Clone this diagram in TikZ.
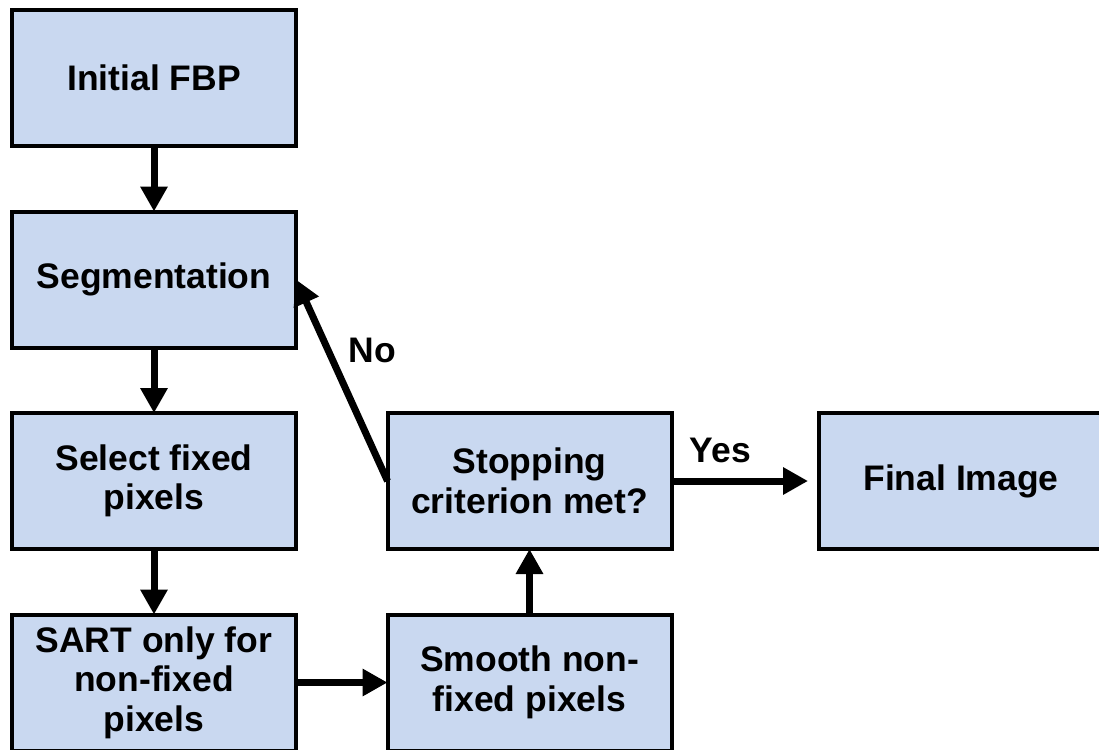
\documentclass[tikz,border=0pt]{standalone}
\usepackage{fontspec}
\setmainfont{Liberation Sans}
\usepackage{xcolor}
\usetikzlibrary{arrows.meta,positioning}
\definecolor{boxblue}{RGB}{201,216,240}

\begin{document}
\begin{tikzpicture}[
    node distance=1.31cm and 1.83cm,
    box/.style={rectangle, draw, line width=0.08cm, outer sep=0pt, fill=boxblue, minimum width=5.68cm, minimum height=2.72cm, inner ysep=0.05cm, align=center, font=\fontsize{20.2pt}{22.5pt}\selectfont\bfseries},
    lbl/.style={font=\fontsize{20.2pt}{22.5pt}\selectfont\bfseries},
    arrow/.style={-{Triangle[length=0.5cm,width=0.52cm]}, line width=0.14cm}
]
    \useasboundingbox (0,0) rectangle (21.98,-14.98);

    % Left column
    \node[box] (fbp) at (3.08,-1.56) {Initial FBP};
    \node[box, below=of fbp] (seg) {Segmentation};
    \node[box, below=of seg] (select) {Select fixed\\pixels};
    \node[box, below=of select] (sart) {SART only for\\non-fixed\\pixels};

    % Middle column
    \node[box, right=of sart] (smooth) {Smooth non-\\fixed pixels};
    \node[box, right=of select] (stop) {Stopping\\criterion met?};

    % Right column
    \node[box, right=2.95cm of stop] (final) {Final Image};

    % Arrows
    \draw[arrow] (fbp) -- (seg);
    \draw[arrow] (seg) -- (select);
    \draw[arrow] (select) -- (sart);
    \draw[arrow] (sart) -- (smooth);
    \draw[arrow] (smooth) -- (stop);
    \draw[arrow, shorten >=0.22cm] (stop) -- node[lbl, pos=0.33, above=0.18cm] {Yes} (final);
    \draw[arrow] (stop.west) -- node[lbl, pos=0.65, right=0.23cm] {No} (seg.east);

\end{tikzpicture}
\end{document}
